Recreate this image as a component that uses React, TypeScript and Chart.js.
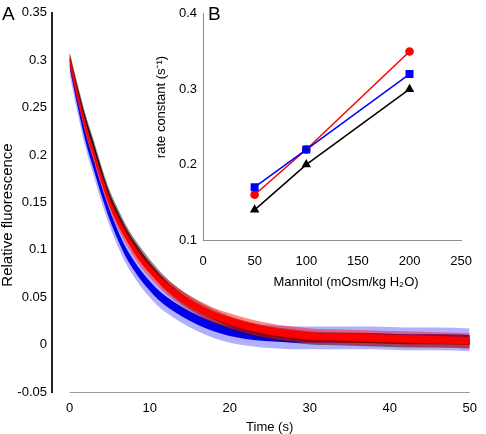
import React, { useEffect, useRef } from "react";
import { Chart, registerables } from "chart.js";

Chart.register(...registerables);

// ---------- Panel A: relative fluorescence traces ----------
const timeS = [0, 1, 2, 3, 4, 5, 6, 7, 8, 9, 10, 11, 12, 14, 16, 18, 20, 22, 24, 26, 28, 30, 34, 38, 42, 46, 50];
const redTrace = [0.300, 0.263, 0.229, 0.201, 0.174, 0.150, 0.131, 0.115, 0.101, 0.089, 0.079, 0.070, 0.062, 0.049, 0.039, 0.031, 0.025, 0.020, 0.016, 0.013, 0.011, 0.009, 0.008, 0.007, 0.006, 0.005, 0.004];
const blackTrace = [0.302, 0.268, 0.236, 0.209, 0.181, 0.156, 0.137, 0.120, 0.106, 0.094, 0.083, 0.073, 0.064, 0.050, 0.039, 0.030, 0.023, 0.018, 0.014, 0.011, 0.009, 0.007, 0.006, 0.005, 0.004, 0.004, 0.003];
const blueTrace = [0.297, 0.256, 0.219, 0.190, 0.162, 0.137, 0.116, 0.098, 0.084, 0.072, 0.062, 0.053, 0.046, 0.035, 0.026, 0.019, 0.014, 0.011, 0.009, 0.008, 0.007, 0.007, 0.007, 0.007, 0.006, 0.006, 0.005];
// noise half-widths (core, spikes)
const redNoise = [0.004, 0.008];
const blackNoise = [0.0035, 0.007];
const blueNoise = [0.005, 0.012];
const timeTicks = [0, 10, 20, 30, 40, 50];

// ---------- Panel B: rate constants ----------
const mannitol = [50, 100, 200];
const rateRed = [0.16, 0.22, 0.35];
const rateBlue = [0.17, 0.22, 0.32];
const rateBlack = [0.14, 0.2, 0.3];

const FONT = "'Liberation Sans', Arial, Helvetica, sans-serif";

function band(vals: number[], amp: number, color: string, order: number) {
  const mk = (sign: number) =>
    timeS.map((t, i) => ({ x: t, y: vals[i] + sign * amp }));
  return [
    {
      data: mk(1),
      borderWidth: 0,
      borderColor: "rgba(0,0,0,0)",
      pointRadius: 0,
      fill: "+1",
      backgroundColor: color,
      order,
      cubicInterpolationMode: "monotone",
    },
    {
      data: mk(-1),
      borderWidth: 0,
      borderColor: "rgba(0,0,0,0)",
      pointRadius: 0,
      fill: false,
      order,
      cubicInterpolationMode: "monotone",
    },
  ];
}

const decorA = {
  id: "decorA",
  afterDraw(chart: any) {
    const { ctx, chartArea, scales } = chart;
    const x = scales.x;
    ctx.save();
    ctx.strokeStyle = "#9a9a9a";
    ctx.lineWidth = 1;
    ctx.beginPath();
    const y0 = Math.round(chartArea.bottom) + 0.5;
    ctx.moveTo(x.getPixelForValue(timeTicks[0]), y0);
    ctx.lineTo(x.getPixelForValue(timeTicks[timeTicks.length - 1]), y0);
    ctx.stroke();
    ctx.fillStyle = "#000";
    ctx.font = `13px ${FONT}`;
    ctx.textAlign = "center";
    ctx.textBaseline = "middle";
    const xMid = (x.getPixelForValue(timeTicks[0]) + x.getPixelForValue(timeTicks[timeTicks.length - 1])) / 2;
    ctx.fillText("Time (s)", xMid, 427);
    ctx.save();
    ctx.translate(8, 215);
    ctx.rotate(-Math.PI / 2);
    ctx.font = `15px ${FONT}`;
    ctx.fillText("Relative fluorescence", 0, 0);
    ctx.restore();
    ctx.font = `19px ${FONT}`;
    ctx.textAlign = "left";
    ctx.textBaseline = "top";
    ctx.fillText("A", 2, 5);
    ctx.restore();
  },
};

const decorB = {
  id: "decorB",
  afterDraw(chart: any) {
    const { ctx } = chart;
    ctx.save();
    ctx.fillStyle = "#000";
    ctx.font = `13px ${FONT}`;
    ctx.textAlign = "center";
    ctx.textBaseline = "middle";
    ctx.fillText("Mannitol (mOsm/kg H\u2082O)", 206, 282);
    ctx.save();
    ctx.translate(21, 107);
    ctx.rotate(-Math.PI / 2);
    ctx.fillText("rate constant (s\u207B\u00B9)", 0, 0);
    ctx.restore();
    ctx.font = `19px ${FONT}`;
    ctx.textAlign = "left";
    ctx.textBaseline = "top";
    ctx.fillText("B", 68, 5);
    ctx.restore();
  },
};

export default function App() {
  const refA = useRef<HTMLCanvasElement>(null);
  const refB = useRef<HTMLCanvasElement>(null);

  useEffect(() => {
    const chartA = new Chart(refA.current as HTMLCanvasElement, {
      type: "line",
      data: {
        datasets: [
          ...band(redTrace, redNoise[0], "rgba(255,0,0,1)", 0),
          ...band(redTrace, redNoise[1], "rgba(255,20,20,0.5)", 1),
          ...band(blackTrace, blackNoise[0], "rgba(0,0,0,1)", 2),
          ...band(blackTrace, blackNoise[1], "rgba(0,0,0,0.45)", 3),
          ...band(blueTrace, blueNoise[0], "rgba(0,0,235,1)", 4),
          ...band(blueTrace, blueNoise[1], "rgba(30,30,255,0.35)", 5),
        ] as any,
      },
      options: {
        animation: false,
        responsive: false,
        maintainAspectRatio: false,
        layout: { padding: { top: 6, right: 10, left: 0, bottom: 0 } },
        plugins: { legend: { display: false }, tooltip: { enabled: false } },
        scales: {
          x: {
            type: "linear",
            min: -2.2,
            max: 50,
            afterBuildTicks: (s: any) => {
              s.ticks = timeTicks.map((v) => ({ value: v }));
            },
            afterFit: (s: any) => {
              s.height = 42;
            },
            grid: { display: false, drawTicks: false },
            border: { display: false },
            ticks: { padding: 9, color: "#000", font: { family: FONT, size: 13 }, maxRotation: 0, autoSkip: false },
          },
          y: {
            type: "linear",
            min: -0.05,
            max: 0.35,
            afterFit: (s: any) => {
              s.width = 52;
            },
            grid: { display: false, drawTicks: false },
            border: { display: true, color: "#222", width: 2 },
            ticks: {
              stepSize: 0.05,
              padding: 5,
              color: "#000",
              font: { family: FONT, size: 13 },
              callback: (v: any) => String(Math.round(Number(v) * 100) / 100),
            },
          },
        },
      } as any,
      plugins: [decorA],
    });

    const pts = (vals: number[]) => mannitol.map((m, i) => ({ x: m, y: vals[i] }));
    const chartB = new Chart(refB.current as HTMLCanvasElement, {
      type: "line",
      data: {
        datasets: [
          {
            data: pts(rateBlue),
            borderColor: "#0000ff",
            backgroundColor: "#0000ff",
            borderWidth: 1.5,
            pointStyle: "rect",
            pointRadius: 4.6,
            order: 0,
          },
          {
            data: pts(rateRed),
            borderColor: "#ff0000",
            backgroundColor: "#ff0000",
            borderWidth: 1.5,
            pointStyle: "circle",
            pointRadius: 3.6,
            order: 1,
          },
          {
            data: pts(rateBlack),
            borderColor: "#000000",
            backgroundColor: "#000000",
            borderWidth: 1.5,
            pointStyle: "triangle",
            pointRadius: 4,
            order: 2,
          },
        ] as any,
      },
      options: {
        animation: false,
        responsive: false,
        maintainAspectRatio: false,
        layout: { padding: { top: 6, right: 9, left: 0, bottom: 0 } },
        plugins: { legend: { display: false }, tooltip: { enabled: false } },
        scales: {
          x: {
            type: "linear",
            min: 0,
            max: 250,
            afterFit: (s: any) => {
              s.height = 60;
            },
            grid: { display: false, drawTicks: false },
            border: { display: true, color: "#8c8c8c", width: 1 },
            ticks: { stepSize: 50, padding: 14, color: "#000", font: { family: FONT, size: 13 }, maxRotation: 0 },
          },
          y: {
            type: "linear",
            min: 0.1,
            max: 0.4,
            afterFit: (s: any) => {
              s.width = 63;
            },
            grid: { display: false, drawTicks: false },
            border: { display: true, color: "#8c8c8c", width: 1 },
            ticks: {
              stepSize: 0.1,
              padding: 6,
              color: "#000",
              font: { family: FONT, size: 13 },
              callback: (v: any) => String(Math.round(Number(v) * 10) / 10),
            },
          },
        },
      } as any,
      plugins: [decorB],
    });

    return () => {
      chartA.destroy();
      chartB.destroy();
    };
  }, []);

  return (
    <div style={{ position: "fixed", left: 0, top: 0, width: 486, height: 434, background: "#fff" }}>
      <canvas
        ref={refA}
        width={486}
        height={434}
        style={{ position: "absolute", left: 0, top: 0, width: 486, height: 434 }}
      />
      <canvas
        ref={refB}
        width={346}
        height={300}
        style={{ position: "absolute", left: 140, top: 0, width: 346, height: 300 }}
      />
    </div>
  );
}
